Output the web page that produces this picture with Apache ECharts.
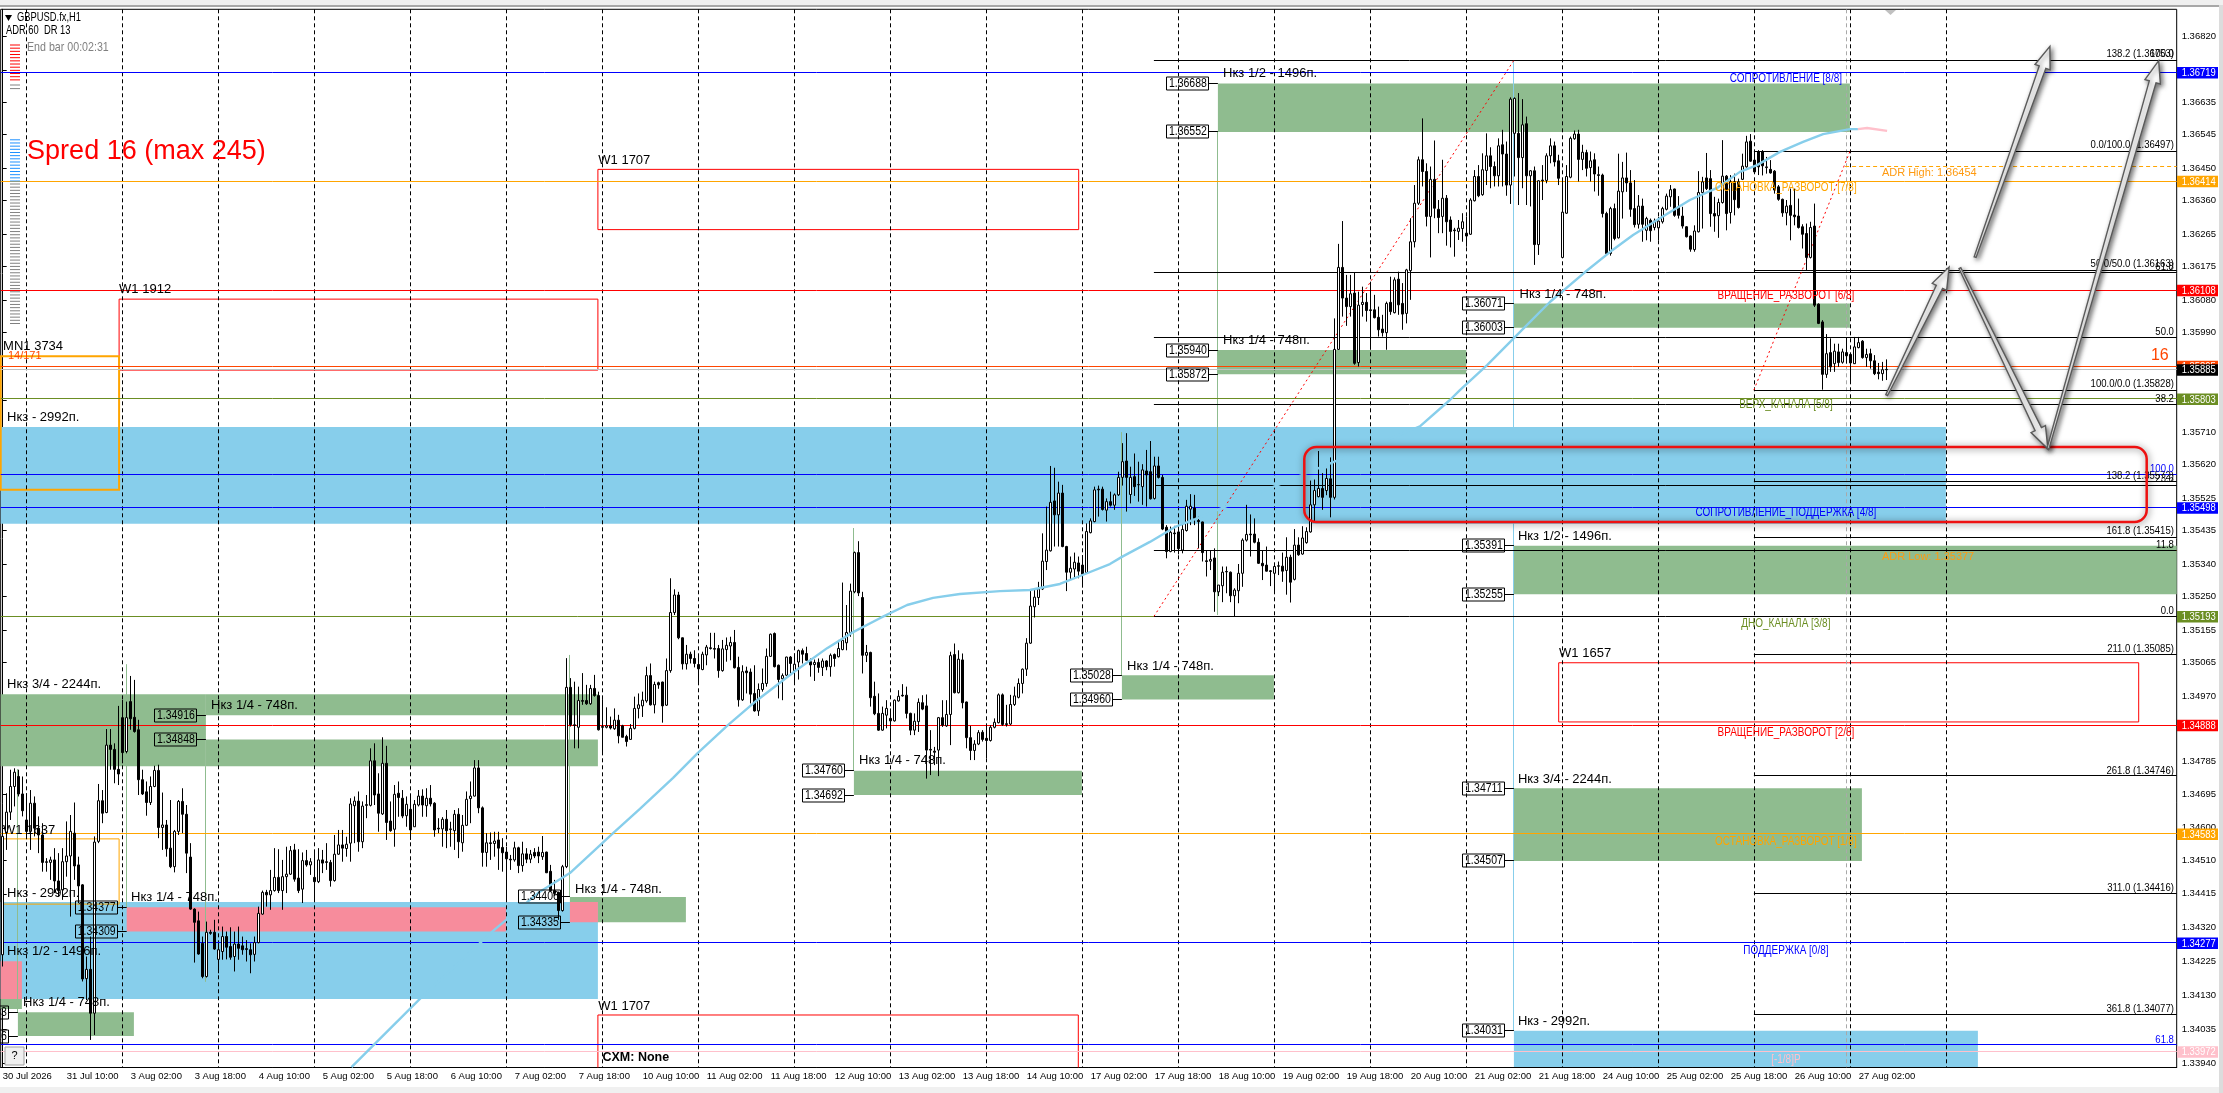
<!DOCTYPE html>
<html><head><meta charset="utf-8">
<style>html,body{margin:0;padding:0;background:#fff}#c{width:2223px;height:1093px}</style>
<script src="https://cdn.jsdelivr.net/npm/echarts@6/dist/echarts.min.js"></script>
</head><body><div id="c"></div>
<script>
// All prices below are "points above 1.30000": 4916 means 1.34916. Candle tuples are [open, close, low, high].
const candlesA=[[4244,4576,4211,4613],[4587,4644,4538,4697],[4644,4716,4622,4763],[4716,4756,4660,4767],[4744,4695,4688,4763],[4695,4648,4632,4744],[4622,4590,4576,4697],[4590,4669,4538,4706],[4669,4599,4576,4688],[4599,4580,4529,4632],[4580,4503,4477,4613],[4503,4505,4477,4515],[4503,4510,4454,4519],[4510,4451,4417,4543],[4451,4424,4407,4529],[4426,4505,4398,4543],[4505,4521,4463,4618],[4521,4590,4351,4636],[4585,4493,4454,4671],[4496,4437,4389,4519],[4440,4176,4169,4442],[4177,4203,4117,4239],[4203,4080,4005,4295],[4080,4560,4019,4576],[4562,4676,4557,4723],[4676,4641,4613,4706],[4643,4832,4641,4877],[4832,4820,4763,4877],[4820,4764,4725,4837],[4764,4751,4720,4942],[4909,4811,4781,4959],[4814,4909,4809,4954],[4954,4906,4875,5026],[4910,4870,4867,5015],[4875,4735,4692,4903],[4735,4695,4692,4763],[4701,4671,4634,4730],[4671,4716,4664,4744],[4716,4761,4714,4774],[4761,4601,4571,4777],[4601,4608,4538,4699],[4608,4541,4519,4622],[4543,4491,4487,4678],[4491,4590,4475,4594],[4590,4674,4580,4678],[4674,4638,4585,4711],[4638,4529,4473,4664],[4518,4372,4370,4557],[4372,4335,4222,4374],[4339,4246,4244,4365],[4276,4183,4178,4295],[4183,4307,4180,4337],[4307,4304,4300,4314],[4307,4260,4258,4342],[4231,4258,4192,4276],[4253,4295,4230,4323],[4295,4265,4231,4309],[4267,4237,4230,4321],[4239,4274,4197,4309],[4274,4262,4230,4323],[4269,4258,4244,4295],[4261,4259,4225,4285],[4258,4244,4192,4276],[4245,4278,4225,4295],[4278,4360,4276,4379],[4358,4419,4356,4424],[4419,4412,4379,4426],[4412,4424,4370,4482],[4424,4461,4421,4543],[4461,4424,4417,4540],[4424,4463,4370,4510],[4463,4470,4417,4547],[4470,4536,4468,4549],[4538,4456,4449,4555],[4459,4424,4417,4540],[4428,4508,4389,4531],[4508,4496,4491,4538],[4496,4505,4468,4515],[4461,4449,4398,4536],[4449,4510,4445,4543]];
const candlesB=[[4510,4501,4473,4538],[4505,4503,4482,4557],[4503,4452,4435,4510],[4452,4526,4449,4580],[4526,4552,4524,4594],[4552,4543,4505,4594],[4542,4554,4519,4575],[4557,4667,4505,4683],[4662,4675,4557,4688],[4675,4561,4533,4702],[4561,4661,4543,4674],[4665,4663,4627,4692],[4663,4788,4660,4823],[4788,4692,4664,4837],[4695,4641,4589,4753],[4639,4781,4636,4854],[4781,4615,4566,4830],[4619,4592,4589,4674],[4596,4694,4547,4720],[4697,4685,4631,4730],[4683,4633,4627,4706],[4634,4666,4603,4688],[4652,4594,4566,4692],[4603,4666,4603,4678],[4664,4689,4660,4706],[4689,4664,4631,4708],[4662,4683,4631,4711],[4683,4667,4660,4720],[4669,4594,4575,4672],[4599,4597,4585,4627],[4597,4624,4547,4630],[4624,4592,4543,4650],[4595,4597,4547,4617],[4592,4638,4538,4650],[4638,4561,4515,4655],[4558,4607,4533,4636],[4607,4680,4605,4702],[4682,4689,4613,4730],[4689,4768,4688,4790],[4768,4656,4641,4790],[4656,4531,4491,4660],[4531,4558,4491,4585],[4558,4556,4510,4587],[4556,4563,4519,4589],[4566,4543,4482,4589],[4545,4530,4477,4571],[4532,4513,4398,4547],[4512,4510,4482,4524],[4510,4544,4505,4561],[4544,4494,4473,4547],[4494,4527,4477,4561],[4527,4512,4501,4543],[4512,4526,4501,4538],[4531,4521,4515,4543],[4532,4521,4501,4547],[4519,4531,4510,4577],[4532,4474,4473,4533],[4478,4424,4421,4496],[4424,4416,4410,4454],[4419,4368,4342,4421],[4368,4491,4365,4496],[4491,4994,4487,5076],[4994,4889,4884,5020],[4889,4887,4823,5010],[4882,4957,4823,4996],[4957,4955,4945,5034],[4957,4948,4945,5001],[4948,4991,4945,5001],[4991,4971,4968,5029],[4971,4875,4873,4982],[4884,4882,4804,4961],[4882,4886,4879,4938],[4886,4880,4876,4912],[4878,4902,4875,4935],[4902,4858,4837,4917],[4886,4854,4854,4889],[4856,4842,4828,4861],[4848,4879,4847,4891],[4879,4935,4876,4968],[4935,4945,4907,4977]];
const candlesC=[[4942,4958,4911,4982],[4956,5027,4951,5052],[5027,4945,4943,5061],[4945,5002,4921,5010],[5007,5001,4990,5010],[5009,4942,4895,5010],[4944,5041,4942,5075],[5041,5204,5035,5300],[5204,5253,5197,5269],[5253,5133,5129,5262],[5133,5060,5044,5134],[5060,5087,5044,5113],[5087,5075,5061,5094],[5075,5061,5050,5098],[5058,5046,5005,5080],[5044,5087,5042,5094],[5085,5107,5056,5113],[5105,5103,5100,5147],[5103,5101,5075,5147],[5103,5041,5021,5113],[5041,5102,5038,5127],[5100,5112,5066,5134],[5110,5120,5070,5136],[5120,5049,5047,5155],[5050,4959,4940,5080],[4959,5038,4956,5056],[5040,5035,4977,5052],[5037,4975,4949,5047],[4977,4928,4926,5056],[4928,4988,4914,5005],[4988,5005,4982,5047],[5005,5081,4996,5103],[5081,5143,5080,5145],[5145,5052,5050,5148],[5056,5016,4963,5058],[5018,5027,4958,5033],[5028,5079,5026,5080],[5079,5061,5033,5082],[5041,5059,5005,5089],[5065,5097,5016,5100],[5097,5087,5061,5103],[5089,5070,5069,5108],[5066,5057,5024,5075],[5058,5064,5012,5072],[5064,5050,5035,5075],[5050,5068,5026,5075],[5068,5052,5042,5070],[5052,5084,5024,5089],[5086,5075,5052,5089],[5080,5103,5078,5127],[5100,5126,5098,5288],[5119,5148,5098,5225],[5148,5264,5136,5285],[5262,5372,5258,5375],[5372,5259,5250,5404],[5246,5084,5033,5262],[5084,5092,5065,5113],[5092,4965,4940,5094],[4969,4920,4916,5010],[4921,4874,4872,4977],[4874,4921,4872,4940],[4916,4935,4879,4958],[4907,4900,4841,4935],[4900,4958,4898,4960],[4956,4969,4954,4986],[4972,4970,4968,5003],[4972,4921,4907,4996],[4921,4874,4860,4923],[4874,4899,4860,4921],[4898,4952,4869,4963],[4951,4933,4930,4972],[4942,4818,4738,4974],[4820,4818,4748,4874],[4815,4812,4776,4827],[4818,4909,4745,4911],[4909,4888,4883,4958],[4886,4918,4883,4958],[4918,5083,4832,5094],[5086,4979,4977,5117],[4979,5073,4977,5098]];
const candlesD=[[5071,4951,4935,5089],[4953,4853,4823,4954],[4853,4817,4790,4886],[4817,4835,4790,4846],[4835,4867,4832,4874],[4868,4848,4842,4874],[4851,4845,4795,4888],[4845,4882,4842,4888],[4882,4896,4879,4907],[4895,4973,4893,4977],[4973,4890,4886,4977],[4892,4890,4884,4945],[4891,4946,4888,4973],[4946,4970,4942,4996],[4966,5005,4963,5019],[5005,5045,4977,5047],[5045,5118,5026,5132],[5118,5222,5116,5267],[5220,5247,5190,5267],[5246,5270,5225,5290],[5270,5348,5267,5426],[5347,5379,5323,5501],[5377,5513,5375,5615],[5517,5478,5389,5610],[5478,5539,5389,5571],[5539,5389,5387,5562],[5389,5317,5264,5391],[5317,5328,5295,5361],[5326,5345,5300,5372],[5343,5320,5300,5361],[5337,5311,5274,5365],[5316,5431,5314,5454],[5428,5461,5426,5468],[5459,5548,5457,5557],[5550,5548,5473,5560],[5550,5493,5490,5557],[5491,5515,5459,5524],[5515,5505,5501,5543],[5505,5534,5492,5538],[5534,5583,5531,5599],[5583,5627,5560,5679],[5629,5583,5487,5707],[5535,5583,5510,5613],[5585,5557,5531,5650],[5563,5562,5515,5627],[5557,5604,5506,5620],[5601,5590,5501,5660],[5599,5523,5521,5685],[5524,5615,5521,5641],[5615,5583,5580,5641],[5583,5438,5435,5590],[5443,5375,5356,5449],[5375,5429,5373,5445],[5427,5425,5372,5447],[5430,5383,5367,5454],[5379,5437,5370,5454],[5434,5502,5431,5520],[5494,5502,5449,5536],[5497,5468,5449,5534],[5462,5459,5384,5473],[5458,5372,5347,5459],[5349,5347,5305,5379],[5348,5353,5323,5379],[5357,5262,5206,5384],[5262,5281,5250,5281],[5279,5317,5233,5333],[5319,5318,5258,5333],[5317,5251,5233,5319],[5251,5267,5194,5272],[5265,5314,5230,5340],[5314,5407,5276,5412],[5407,5423,5403,5506],[5424,5422,5361,5479],[5424,5401,5398,5468],[5401,5342,5340,5412],[5342,5335,5295,5379],[5337,5320,5319,5389],[5321,5319,5278,5323],[5314,5333,5258,5342],[5335,5334,5309,5347]];
const candlesE=[[5334,5320,5290,5372],[5322,5359,5254,5415],[5359,5289,5232,5366],[5297,5393,5294,5438],[5393,5366,5363,5415],[5368,5413,5366,5446],[5400,5431,5397,5443],[5430,5506,5428,5574],[5506,5546,5459,5577],[5529,5552,5527,5657],[5552,5527,5492,5595],[5546,5580,5533,5608],[5579,5527,5471,5639],[5527,5942,5521,6029],[5942,6172,5941,6238],[6172,6086,6034,6302],[6086,6062,6008,6151],[6062,6098,6034,6151],[6100,5903,5899,6158],[5905,6066,5894,6104],[6068,6074,6034,6118],[6074,6051,6020,6100],[6053,6051,5941,6132],[6053,6031,6029,6095],[6032,5997,5978,6062],[5999,5989,5978,6039],[5989,6071,5941,6076],[6074,6048,6039,6146],[6045,6137,6043,6144],[6139,6067,6039,6160],[6071,6041,5997,6128],[6043,6165,6015,6168],[6163,6244,6081,6310],[6244,6352,6228,6403],[6352,6474,6347,6483],[6474,6441,6399,6590],[6441,6315,6287,6464],[6315,6419,6200,6455],[6419,6338,6310,6528],[6335,6312,6268,6361],[6315,6366,6268,6474],[6366,6300,6233,6375],[6305,6273,6228,6315],[6277,6275,6202,6283],[6273,6282,6249,6305],[6281,6300,6244,6324],[6268,6260,6230,6315],[6265,6361,6263,6366],[6359,6427,6357,6445],[6427,6373,6369,6459],[6376,6446,6373,6492],[6444,6485,6403,6548],[6485,6455,6394,6509],[6455,6429,6399,6469],[6429,6513,6399,6534],[6516,6490,6399,6558],[6490,6403,6373,6525],[6403,6644,6350,6649],[6548,6646,6427,6649],[6548,6480,6347,6661],[6480,6572,6394,6644],[6575,6429,6347,6595],[6429,6443,6343,6445],[6443,6236,6179,6455],[6236,6415,6207,6417],[6417,6415,6361,6459],[6416,6485,6408,6492],[6485,6513,6464,6534],[6513,6468,6455,6525],[6471,6422,6403,6488],[6200,6327,6198,6417],[6324,6427,6322,6459],[6425,6534,6422,6539],[6533,6546,6530,6556],[6546,6475,6413,6558],[6475,6495,6445,6516],[6494,6450,6427,6502],[6452,6471,6413,6497],[6474,6434,6385,6492],[6432,6430,6373,6455]];
const candlesF=[[6431,6323,6312,6435],[6323,6211,6209,6328],[6211,6337,6205,6342],[6337,6253,6248,6351],[6255,6386,6253,6491],[6384,6423,6309,6468],[6423,6409,6384,6494],[6409,6335,6314,6445],[6337,6292,6284,6417],[6293,6344,6281,6375],[6344,6293,6244,6365],[6276,6309,6248,6314],[6304,6275,6244,6309],[6284,6302,6276,6309],[6283,6302,6248,6314],[6300,6337,6295,6342],[6335,6372,6332,6379],[6370,6390,6342,6403],[6392,6318,6314,6393],[6342,6318,6309,6372],[6316,6288,6281,6342],[6286,6258,6256,6288],[6260,6223,6216,6262],[6222,6274,6216,6290],[6272,6382,6270,6442],[6382,6412,6281,6426],[6423,6393,6389,6493],[6421,6323,6286,6445],[6323,6316,6272,6370],[6317,6354,6255,6365],[6354,6428,6351,6529],[6428,6323,6276,6431],[6326,6412,6295,6431],[6412,6362,6318,6435],[6412,6340,6337,6421],[6419,6456,6417,6491],[6454,6524,6452,6541],[6526,6470,6468,6546],[6473,6440,6435,6496],[6496,6454,6431,6501],[6496,6457,6430,6501],[6452,6454,6435,6482],[6447,6437,6435,6473],[6442,6389,6379,6445],[6398,6363,6359,6403],[6363,6325,6314,6365],[6325,6344,6290,6361],[6346,6318,6248,6393],[6319,6314,6290,6393],[6316,6284,6281,6365],[6286,6265,6225,6293],[6267,6200,6164,6295],[6200,6284,6197,6300],[6288,6066,6061,6351],[6069,6015,6013,6071],[6019,5872,5829,6024],[5872,5930,5862,5985],[5933,5893,5879,5973],[5902,5937,5879,5958],[5935,5905,5893,5958],[5906,5935,5902,5944],[5933,5924,5902,5974],[5928,5904,5846,5930],[5902,5949,5901,5977],[5947,5961,5945,5977],[5965,5919,5916,5968],[5919,5928,5893,5944],[5930,5910,5888,5944],[5910,5874,5870,5926],[5878,5874,5858,5904],[5874,5885,5854,5907],[5886,5885,5856,5914]];

const tickLabels=["30 Jul 2026","31 Jul 10:00","3 Aug 02:00","3 Aug 18:00","4 Aug 10:00","5 Aug 02:00","5 Aug 18:00","6 Aug 10:00","7 Aug 02:00","7 Aug 18:00","10 Aug 10:00","11 Aug 02:00","11 Aug 18:00","12 Aug 10:00","13 Aug 02:00","13 Aug 18:00","14 Aug 10:00","17 Aug 02:00","17 Aug 18:00","18 Aug 10:00","19 Aug 02:00","19 Aug 18:00","20 Aug 10:00","21 Aug 02:00","21 Aug 18:00","24 Aug 10:00","25 Aug 02:00","25 Aug 18:00","26 Aug 10:00","27 Aug 02:00"];
const priceTicks=[1.3682,1.36725,1.36635,1.36545,1.3645,1.3636,1.36265,1.36175,1.3608,1.3599,1.35895,1.358,1.3571,1.3562,1.35525,1.35435,1.3534,1.3525,1.35155,1.35065,1.3497,1.3488,1.34785,1.34695,1.346,1.3451,1.34415,1.3432,1.34225,1.3413,1.34035,1.3394];
const dayBars=[6,30,54,78,102,126,150,174,198,222,246,270,294,318,342,366,390,414,438,462,486];

// moving average: [bar, points]
const maBlue=[[87.2,3929],[104.3,4120],[122.6,4311],[125.8,4341],[133.8,4417],[141.8,4473],[152.6,4585],[159.3,4653],[167.6,4740],[173.8,4810],[181.3,4888],[188.6,4958],[197.8,5037],[206.1,5104],[212.6,5149],[219.3,5188],[226.1,5225],[232.6,5245],[239.3,5256],[249.3,5264],[256.8,5267],[264.3,5284],[270.6,5312],[276.8,5340],[279.8,5360],[286.8,5402],[293.1,5444],[298.1,5466],[354.3,5726],[361.8,5800],[364.3,5828],[371.1,5898],[378.1,5977],[386.8,6075],[395.6,6159],[401.8,6215],[407.6,6263],[413.6,6305],[421.8,6361],[428.6,6395],[434.3,6440],[438.6,6459],[444.3,6496],[450.1,6524],[455.1,6546],[461.8,6560],[463.8,6560]];
const maPink=[[463.8,6560],[466.1,6563],[471.1,6555]];

// zones: [barFrom, barTo, top, bottom]
const greenZones=[[-0.5,50.8,4975,4773],[50.8,148.8,4975,4916],[50.8,148.8,4848,4773],[-0.5,4.8,4120,4092],[3.8,32.8,4083,4016],[141.8,170.8,4406,4335],[212.8,269.8,4760,4692],[279.8,317.8,5028,4960],[303.8,461.8,6688,6552],[303.8,365.9,5940,5872],[377.8,461.8,6071,6003],[377.8,543.5,5391,5255],[377.8,464.8,4711,4507]];
const blueZones=[[-0.5,148.8,4392,4120],[-0.5,485.8,5724,5453],[377.8,493.8,4031,3929]];
const pinkZones=[[31,125.8,4377,4309],[141.8,148.8,4392,4335],[-0.5,4.8,4226,4120]];
const redBoxes=[[29.1,148.8,6083,5884],[148.8,269,6447,6278],[148.8,268.9,4075,3890],[389,534,5063,4897]];
const orangeBoxes=[[-0.5,29.1,5923,5548,2],[0,29.1,4569,4386,1]];
const focusBox=[[325.4,536,5668,5458]];

// full-width levels: [points, kind]
const levelLines=[[6719,'blue'],[6414,'orange'],[6108,'red'],[5895,'bid'],[5885,'ask'],[5803,'olive'],[5592,'blue'],[5498,'blue'],[4888,'red'],[4583,'orange'],[4277,'blue'],[3992,'blue'],[3972,'pink']];
const fibLevelsB=[6753,6159,5974,5787,5560,5379,5193];
const fibLevelsA=[6753,6497,6163,5828,5572,5415,5085,4746,4416,4077];
const adrLevels=[6454,5377];
const oliveTail=[[5193,'olive']];
const priceBoxes=[[6719,'blue'],[6414,'orange'],[6108,'red'],[5895,'bid'],[5885,'black'],[5803,'olive'],[5498,'blue'],[5193,'olive'],[4888,'red'],[4583,'orange'],[4277,'blue'],[3972,'pink']];
const greenStems=[[3.8,4765,4083],[31,5059,4377],[50.8,4773,4168],[141.8,5085,4406],[212.8,5441,4760],[279.8,5710,5028],[303.8,6552,5197]];
const blueStems=[[377.8,6753,4031]];
const trendLines=[[287.8,5193,377.8,6753],[437.8,5828,461.8,6497]];
const valueTags=[[50.8,4916],[50.8,4848],[31,4377],[31,4309],[141.8,4406],[141.8,4335],[212.8,4760],[212.8,4692],[279.8,5028],[279.8,4960],[303.8,6688],[303.8,6552],[303.8,5940],[303.8,5872],[377.8,6071],[377.8,6003],[377.8,5391],[377.8,5255],[377.8,4711],[377.8,4507],[377.8,4031],[3.8,4083],[3.8,4016]];
// arrows: [tailBar, tailPts, headBar, headPts]
const arrows=[[471,5814,486.6,6173],[493.1,6201,511.8,6792],[489.3,6170,511.3,5663],[511.3,5663,539,6752]];

const noteLabels=[[1.1,5001,"Нкз 3/4 - 2244п."],[52.1,4942,"Нкз 1/4 - 748п."],[1.1,5750,"Нкз - 2992п."],[0.1,4594,"W1 1637"],[1.1,4417,"Нкз - 2992п."],[32.1,4406,"Нкз 1/4 - 748п."],[1.1,4252,"Нкз 1/2 - 1496п."],[5.1,4109,"Нкз 1/4 - 748п."],[143.1,4428,"Нкз 1/4 - 748п."],[214.1,4790,"Нкз 1/4 - 748п."],[281.1,5054,"Нкз 1/4 - 748п."],[305.1,6717,"Нкз 1/2 - 1496п."],[305.1,5968,"Нкз 1/4 - 748п."],[379.2,6097,"Нкз 1/4 - 748п."],[378.8,5418,"Нкз 1/2 - 1496п."],[378.8,4737,"Нкз 3/4 - 2244п."],[378.8,4056,"Нкз - 2992п."],[29.1,6109,"W1 1912"],[148.9,6473,"W1 1707"],[148.9,4100,"W1 1707"],[389.1,5090,"W1 1657"],[0.1,5949,"MN1 3734"]];
const levelLabels=[[6700,"СОПРОТИВЛЕНИЕ [8/8]",'blue'],[6397,"ОСТАНОВКА_РАЗВОРОТ [7/8]",'orange'],[6092,"ВРАЩЕНИЕ_РАЗВОРОТ [6/8]",'red'],[5786,"ВЕРХ_КАНАЛА [5/8]",'olive'],[5483,"СОПРОТИВЛЕНИЕ_ПОДДЕРЖКА [4/8]",'blue'],[5174,"ДНО_КАНАЛА [3/8]",'olive'],[4867,"ВРАЩЕНИЕ_РАЗВОРОТ [2/8]",'red'],[4562,"ОСТАНОВКА_РАЗВОРОТ [1/8]",'orange'],[4254,"ПОДДЕРЖКА [0/8]",'blue'],[3951,"[-1/8]P",'pink']];
const fibLabels=[[6770,"138.2 (1.36753)",'black'],[6770,"100.0",'black'],[6515,"0.0/100.0 (1.36497)",'black'],[6181,"50.0/50.0 (1.36163)",'black'],[6173,"61.8",'black'],[5991,"50.0",'black'],[5846,"100.0/0.0 (1.35828)",'black'],[5803,"38.2",'black'],[5588,"138.2 (1.35572)",'black'],[5580,"23.6",'black'],[5608,"100.0",'blue'],[5433,"161.8 (1.35415)",'black'],[5394,"11.8",'black'],[5208,"0.0",'black'],[5102,"211.0 (1.35085)",'black'],[4759,"261.8 (1.34746)",'black'],[4431,"311.0 (1.34416)",'black'],[4092,"361.8 (1.34077)",'black'],[4006,"61.8",'blue']];
const adrLabels=[[469.8,6437,"ADR High: 1.36454"],[469.8,5360,"ADR Low: 1.35377"]];

const COLORS={blue:'#0000ff',orange:'#ffa500',red:'#ff0000',olive:'#6b8e23',pink:'#ffc0cb',bid:'#ff4500',ask:'#c0c0c0',black:'#000000'};
const FONT='"Liberation Sans",Arial,sans-serif';
const BARS=544, MAXP=1.36896, MINP=1.339277;
const px=p=>+(1.3+p/1e5).toFixed(5);
const ohlc=[...candlesA,...candlesB,...candlesC,...candlesD,...candlesE,...candlesF].map(c=>c.map(px));
const cats=Array.from({length:BARS},(_,i)=>i%16===0&&tickLabels[i/16]?tickLabels[i/16]:'');

function custom(list,z,draw,clip){
  return {type:'custom',coordinateSystem:'cartesian2d',xAxisIndex:1,yAxisIndex:0,z,silent:true,clip:!!clip,animation:false,
    data:list.map((d,i)=>[i]),renderItem:(p,api)=>draw(list[p.dataIndex],api)};
}
const pt=(api,b,p)=>api.coord([b,px(p)]);
const snap=v=>Math.floor(v)+0.5;
const rectOf=(api,d)=>{const a=pt(api,d[0],d[2]),b=pt(api,d[1],d[3]);return {x:a[0],y:a[1],width:b[0]-a[0],height:b[1]-a[1]};};
const zone=color=>(d,api)=>({type:'rect',shape:rectOf(api,d),style:{fill:color}});
const hline=(from,color,width,dash)=>(d,api)=>{const a=pt(api,from,Array.isArray(d)?d[0]:d),b=pt(api,543.5,Array.isArray(d)?d[0]:d);const y=snap(a[1]);
  const c=Array.isArray(d)?COLORS[d[1]]:color;return {type:'line',shape:{x1:a[0],y1:y,x2:b[0],y2:y},style:{stroke:c,lineWidth:width||1,lineDash:dash||null}};};
const vline=(color,width)=>(d,api)=>{const a=pt(api,d[0],d[1]),b=pt(api,d[0],d[2]);const x=snap(a[0]);return {type:'line',shape:{x1:x,y1:a[1],x2:x,y2:b[1]},style:{stroke:color,lineWidth:width||1}};};
const txt=(x,y,text,fill,font,align,sx)=>({type:'text',x,y,scaleX:sx||1,style:{text,fill,font,textAlign:align||'left',textVerticalAlign:'middle',align:align||'left',verticalAlign:'middle'}});

const option={
  animation:false,backgroundColor:'#fff',
  grid:{left:0.7,right:46.3,top:9.3,bottom:25.5,show:true,borderColor:'#000',borderWidth:1,backgroundColor:'#fff',outerBoundsMode:'none',containLabel:false},
  xAxis:[
    {type:'category',data:cats,boundaryGap:true,axisLine:{lineStyle:{color:'#000'}},
      axisTick:{alignWithLabel:true,length:3,interval:i=>!!cats[i],lineStyle:{color:'#000'}},
      axisLabel:{interval:i=>!!cats[i],hideOverlap:false,align:'left',margin:4,fontFamily:FONT,fontSize:9.5,color:'#000'},splitLine:{show:false}},
    {type:'value',min:-0.5,max:543.5,show:false,splitLine:{show:false}}
  ],
  yAxis:[{type:'value',position:'right',min:MINP,max:MAXP,scale:true,
    axisLine:{show:true,lineStyle:{color:'#000'}},splitLine:{show:false},
    axisTick:{show:true,length:4,customValues:priceTicks,lineStyle:{color:'#000'}},
    axisLabel:{customValues:priceTicks,formatter:v=>v.toFixed(5),margin:5,fontFamily:FONT,fontSize:9.5,color:'#000'}}],
  series:[
    custom(greenZones,1,zone('#8fbc8f'),true),
    custom(blueZones,1,zone('#87ceeb'),true),
    custom(pinkZones,1.2,zone('#f78c9c'),true),
    custom(greenStems,1.3,vline('#8fbc8f'),true),
    custom(blueStems,1.3,vline('#87ceeb'),true),
    custom(redBoxes,1.5,(d,api)=>({type:'rect',shape:rectOf(api,d),style:{fill:'none',stroke:'#ff0000',lineWidth:1}}),true),
    custom(orangeBoxes,1.5,(d,api)=>({type:'rect',shape:rectOf(api,d),style:{fill:'none',stroke:'#ffa500',lineWidth:d[4]}}),true),
    custom(dayBars,2,(d,api)=>{const x=snap(pt(api,d,6000)[0]);return {type:'line',shape:{x1:x,y1:9.3,x2:x,y2:1067.5},style:{stroke:'#000',lineWidth:1,lineDash:[4,3]}};},true),
    custom([461],2,(d,api)=>{const x=snap(pt(api,d,6000)[0]);return {type:'line',shape:{x1:x,y1:9.3,x2:x,y2:1067.5},style:{stroke:'#a9a9a9',lineWidth:1,lineDash:[4,3]}};},true),
    custom(adrLevels,2.5,hline(460.6,'#ffa500',1,[4,3]),true),
    custom(levelLines,3,hline(-0.5),true),
    custom(oliveTail,3,(d,api)=>{const a=pt(api,-0.5,d[0]),b=pt(api,287.8,d[0]);const y=snap(a[1]);return {type:'line',shape:{x1:a[0],y1:y,x2:b[0],y2:y},style:{stroke:COLORS.olive,lineWidth:1}};},true),
    custom(fibLevelsB,3.1,hline(287.8,'#000'),true),
    custom(fibLevelsA,3.1,hline(437.8,'#000'),true),
    custom(trendLines,3.2,(d,api)=>{const a=pt(api,d[0],d[1]),b=pt(api,d[2],d[3]);return {type:'line',shape:{x1:a[0],y1:a[1],x2:b[0],y2:b[1]},style:{stroke:'#ff0000',lineWidth:1,lineDash:[2,3]}};},true),
    {type:'candlestick',xAxisIndex:0,yAxisIndex:0,z:4,silent:true,barWidth:2,data:ohlc,
      itemStyle:{color:'#fff',color0:'#000',borderColor:'#000',borderColor0:'#000',borderColorDoji:'#000',borderWidth:1}},
    {type:'line',xAxisIndex:1,yAxisIndex:0,z:5,silent:true,showSymbol:false,smooth:false,data:maBlue.map(d=>[d[0],px(d[1])]),lineStyle:{color:'#87ceeb',width:2.4}},
    {type:'line',xAxisIndex:1,yAxisIndex:0,z:5,silent:true,showSymbol:false,smooth:false,data:maPink.map(d=>[d[0],px(d[1])]),lineStyle:{color:'#ffc0cb',width:2.4}},
    custom(valueTags,6,(d,api)=>{const a=pt(api,d[0],d[1]),y=snap(a[1]),r=a[0];const ch=[
        {type:'line',shape:{x1:r-9,y1:y,x2:r,y2:y},style:{stroke:'#000',lineWidth:1}},
        {type:'rect',shape:{x:Math.floor(r-51)+.5,y:y-6.5,width:42,height:13},style:{fill:'none',stroke:'#000',lineWidth:1}},
        txt(r-30,y+.5,px(d[1]).toFixed(5),'#000','12.5px '+FONT,'center',.84)];
      return {type:'group',children:ch};}),
    custom(noteLabels,6,(d,api)=>{const a=pt(api,d[0],d[1]);return txt(a[0],a[1],d[2],'#000','13px '+FONT);}),
    custom(levelLabels,6,(d,api)=>{const a=pt(api,445.8,d[0]);return txt(a[0],a[1],d[1],COLORS[d[2]],'12px '+FONT,'center',.83);}),
    custom(fibLabels,6,(d,api)=>{const a=pt(api,542.8,d[0]);return txt(a[0],a[1],d[1],COLORS[d[2]],'11.5px '+FONT,'right',.83);}),
    custom(adrLabels,6,(d,api)=>{const a=pt(api,d[0],d[1]);return txt(a[0],a[1],d[2],'#ff9a10','11px '+FONT);}),
    custom([[1.3,5923,"14/171",'#ff4500','11px '],[541.5,5924,"16",'#ff4500','16px '],[6.1,6496,"Spred 16 (max 245)",'#ff0000','27px ']],6,(d,api)=>{const a=pt(api,d[0],d[1]);return txt(a[0],a[1],d[2],d[3],d[4]+FONT,d[0]>500?'right':'left');}),
    custom(focusBox,7,(d,api)=>({type:'rect',shape:{...rectOf(api,d),r:12},style:{fill:'none',stroke:'#ee1111',lineWidth:2.5,shadowBlur:7,shadowColor:'rgba(0,0,0,.55)',shadowOffsetX:1,shadowOffsetY:1}})),
    custom(arrows,8,(d,api)=>{const a=pt(api,d[0],d[1]),b=pt(api,d[2],d[3]);const dx=b[0]-a[0],dy=b[1]-a[1],L=Math.hypot(dx,dy),ux=dx/L,uy=dy/L,nx=-uy,ny=ux;
      const hl=22,hw=8,sw=3.5,tw=1;const nk=[b[0]-ux*hl,b[1]-uy*hl];
      const P=(o,w)=>[o[0]+nx*w,o[1]+ny*w];
      return {type:'polygon',shape:{points:[P(a,tw),P(nk,sw),P(nk,hw),b,P(nk,-hw),P(nk,-sw),P(a,-tw)]},style:{fill:'#fff',stroke:'#5a5a5a',lineWidth:1.4,shadowBlur:5,shadowColor:'rgba(0,0,0,.55)',shadowOffsetX:2,shadowOffsetY:2}};}),
    custom(priceBoxes,9,(d,api)=>{const a=pt(api,543.5,d[0]);const y=a[1];const c=COLORS[d[1]];return {type:'group',children:[
        {type:'rect',shape:{x:a[0]+0.3,y:y-5.5,width:41,height:11.5},style:{fill:c}},
        txt(a[0]+5,y+.5,px(d[0]).toFixed(5),'#fff','11.5px '+FONT,'left',.82)]};})
  ],
  graphic:{elements:[
    {type:'rect',z:-1,shape:{x:0,y:0,width:2223,height:5},style:{fill:'#f0f0f0'}},
    {type:'rect',z:-1,shape:{x:0,y:5,width:2223,height:2},style:{fill:'#a8a8a8'}},
    {type:'rect',z:-1,shape:{x:0,y:1087,width:2223,height:6},style:{fill:'#f0f0f0'}},
    {type:'rect',z:-1,shape:{x:2219,y:5,width:4,height:1088},style:{fill:'#dcdcdc'}},
    {type:'polygon',z:50,shape:{points:[[1885,10],[1896,10],[1890.5,15]]},style:{fill:'#c0c0c0'}},
    {type:'polygon',z:50,shape:{points:[[5,15],[12,15],[8.5,21]]},style:{fill:'#000'}},
    {type:'text',z:50,x:17,y:18,scaleX:.78,style:{text:'GBPUSD.fx,H1',font:'12px '+FONT,fill:'#000',verticalAlign:'middle',textVerticalAlign:'middle'}},
    {type:'text',z:50,x:6,y:31,scaleX:.78,style:{text:'ADR 60  DR 13',font:'12px '+FONT,fill:'#000',verticalAlign:'middle',textVerticalAlign:'middle'}},
    {type:'text',z:50,x:27,y:47,scaleX:.82,style:{text:'End bar 00:02:31',font:'13px '+FONT,fill:'#808080',verticalAlign:'middle',textVerticalAlign:'middle'}},
    ...Array.from({length:12},(_,i)=>({type:'rect',z:50,shape:{x:10,y:44.5+i*3.17,width:10,height:1},style:{fill:'#ff0000'}})),
    ...Array.from({length:2},(_,i)=>({type:'rect',z:50,shape:{x:10,y:84.5+i*3.6,width:10,height:1},style:{fill:'#808080'}})),
    ...Array.from({length:14},(_,i)=>({type:'rect',z:50,shape:{x:10,y:139.3+i*3.17,width:10,height:1},style:{fill:'#1e90ff'}})),
    ...Array.from({length:45},(_,i)=>({type:'rect',z:50,shape:{x:10,y:183.5+i*3.17,width:10,height:1},style:{fill:'#808080'}})),
    {type:'rect',z:50,shape:{x:5,y:1047,width:19,height:18},style:{fill:'#f0f0f0',stroke:'#a0a0a0',lineWidth:1}},
    {type:'text',z:51,x:14.5,y:1056,style:{text:'?',font:'11px '+FONT,fill:'#000',align:'center',textAlign:'center',verticalAlign:'middle',textVerticalAlign:'middle'}},
    {type:'text',z:51,x:602.5,y:1058,style:{text:'CXM: None',font:'bold 12.5px '+FONT,fill:'#000',verticalAlign:'middle',textVerticalAlign:'middle'}}
  ]}
};
const chart=echarts.init(document.getElementById('c'),null,{renderer:'canvas',width:2223,height:1093});
chart.setOption(option);
</script></body></html>
